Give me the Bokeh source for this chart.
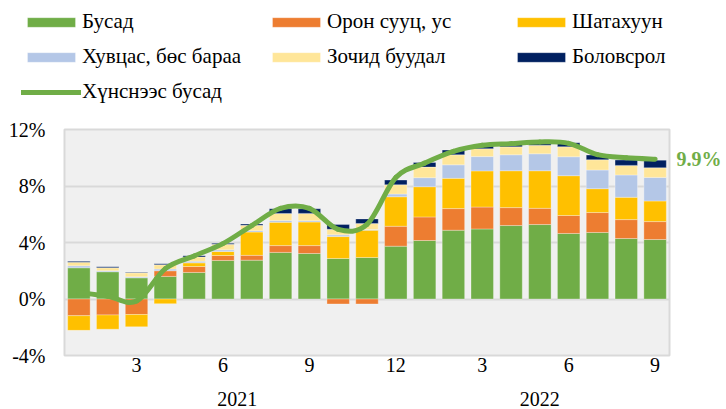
import numpy as np
from bokeh.plotting import figure
from bokeh.models import (ColumnDataSource, FixedTicker, LinearAxis, Legend,
                          LegendItem, Range1d)
from bokeh.embed import file_html
from bokeh.resources import INLINE

# ---------------- data ----------------
months = list(range(1, 22))                       # Jan 2021 ... Sep 2022
year_of_month = [2021] * 12 + [2022] * 9
month_tick_positions = [3, 6, 9, 12, 15, 18, 21]
month_tick_labels = ["3", "6", "9", "12", "3", "6", "9"]
year_labels = ["2021", "2022"]
y_ticks = [-4, 0, 4, 8, 12]

series_names = ["Бусад", "Орон сууц, ус", "Шатахуун",
                "Хувцас, бөс бараа", "Зочид буудал", "Боловсрол"]
busad = [2.21, 1.93, 1.50, 1.60, 1.88, 2.73, 2.75, 3.30, 3.22, 2.87, 2.94,
         3.74, 4.14, 4.87, 4.96, 5.20, 5.27, 4.64, 4.71, 4.28, 4.21]
oron_suuts = [-1.18, -1.13, -1.10, 0.40, 0.42, 0.35, 0.34, 0.48, 0.56, -0.35, -0.35,
              1.41, 1.67, 1.53, 1.55, 1.27, 1.15, 1.27, 1.41, 1.34, 1.27]
shatakhuun = [-1.04, -1.01, -0.87, -0.33, 0.26, 0.28, 1.65, 1.65, 1.67, 1.55, 1.93,
              2.09, 2.14, 2.14, 2.56, 2.61, 2.66, 2.82, 1.69, 1.58, 1.46]
khuvtsas = [0.14, 0.07, 0.07, 0.12, 0.12, 0.12, 0.10, 0.12, 0.09, 0.12, 0.05,
            0.19, 0.64, 0.96, 1.01, 1.13, 1.20, 1.34, 1.32, 1.58, 1.67]
zochid = [0.26, 0.21, 0.28, 0.30, 0.30, 0.40, 0.38, 0.50, 0.52, 0.40, 0.42,
          0.66, 0.75, 0.71, 0.56, 0.56, 0.61, 0.71, 0.73, 0.68, 0.68]
bolovsrol = [0.06, 0.07, 0.05, 0.07, 0.09, 0.07, 0.09, 0.34, 0.33, 0.33, 0.33,
             0.33, 0.33, 0.33, 0.21, 0.16, 0.16, 0.28, 0.33, 0.38, 0.54]
series_values = [busad, oron_suuts, shatakhuun, khuvtsas, zochid, bolovsrol]
series_colors = ["#70AD47", "#ED7D31", "#FFC000", "#B4C7E7", "#FFE699", "#002060"]

line_name = "Хүнснээс бусад"
line_values = [0.45, 0.20, -0.15, 2.15, 3.05, 3.92, 5.20, 6.42, 6.42, 4.93, 5.28,
               8.60, 9.62, 10.45, 10.88, 11.00, 11.12, 11.02, 10.22, 10.00, 9.90]
line_color = "#70AD47"

FONT = "Liberation Serif"
BAR_W = 0.78
BAR_STYLE = dict(line_color="white", line_width=0.6, line_alpha=0.5)
LINE_STYLE = dict(line_color=line_color, line_width=5, line_cap="round")

# ---------------- legend figure (top strip) ----------------
leg = figure(width=726, height=105, min_border_left=21, min_border_top=9,
             min_border_right=0, min_border_bottom=0,
             x_range=Range1d(0, 1), y_range=Range1d(0, 1),
             x_axis_location=None, y_axis_location=None,
             output_backend="svg", toolbar_location=None)
leg.outline_line_color = None
leg.grid.visible = False
leg.background_fill_color = "white"
leg.border_fill_color = "white"

items = []
for name, col, v in zip(series_names, series_colors, series_values):
    r = leg.vbar(x=months, top=v, width=BAR_W, fill_color=col, visible=False, **BAR_STYLE)
    items.append(LegendItem(label=name, renderers=[r]))
rl = leg.line(x=months, y=line_values, visible=False, **LINE_STYLE)
items.append(LegendItem(label=line_name, renderers=[rl]))
legend = Legend(items=items, location="top_left", orientation="horizontal", ncols=3,
                glyph_width=60, glyph_height=12, label_standoff=1, label_width=174,
                label_height=24, spacing=10, padding=0, margin=0,
                background_fill_alpha=0, border_line_color=None,
                inactive_fill_alpha=0,
                label_text_font=FONT, label_text_font_size="21px",
                label_text_color="black")
leg.add_layout(legend, "center")

# ---------------- main figure ----------------
p = figure(frame_width=605, frame_height=226,
           min_border_left=64, min_border_right=57,
           min_border_top=24, min_border_bottom=54,
           x_range=Range1d(0.5, len(months) + 0.5), y_range=Range1d(-4, 12),
           output_backend="svg", toolbar_location=None, x_axis_type=None)
p.background_fill_color = "#F0F0F0"
p.border_fill_color = "white"
p.outline_line_color = "#D9D9D9"
p.outline_line_width = 2

p.ygrid.ticker = FixedTicker(ticks=y_ticks)
p.ygrid.grid_line_color = "#D9D9D9"
p.ygrid.grid_line_width = 2
p.xgrid.ticker = FixedTicker(ticks=[m + 0.5 for m in month_tick_positions[:-1]])
p.xgrid.grid_line_color = "#D9D9D9"
p.xgrid.grid_line_width = 2

ya = p.yaxis[0]
ya.ticker = FixedTicker(ticks=y_ticks)
ya.major_label_overrides = {t: f"{t}%" for t in y_ticks}

xa = LinearAxis(ticker=FixedTicker(ticks=month_tick_positions),
                major_label_overrides={float(t): l for t, l in zip(month_tick_positions, month_tick_labels)})
yrs = sorted(set(year_of_month))
year_pos = [float(np.mean([m for m, yv in zip(months, year_of_month) if yv == y])) for y in yrs]
xa2 = LinearAxis(ticker=FixedTicker(ticks=year_pos),
                 major_label_overrides={pp: l for pp, l in zip(year_pos, year_labels)})
p.add_layout(xa, "below")
p.add_layout(xa2, "below")

# end-value label as a right-hand axis tick
last = float(line_values[-1])
ra = LinearAxis(ticker=FixedTicker(ticks=[last]),
                major_label_overrides={last: f"{last:.1f}%"})
p.add_layout(ra, "right")

for ax in [ya, xa, xa2, ra]:
    ax.axis_line_color = None
    ax.major_tick_line_color = None
    ax.minor_tick_line_color = None
    ax.major_tick_out = 0
    ax.major_tick_in = 0
    ax.major_label_text_font = FONT
    ax.major_label_text_font_size = "20px"
    ax.major_label_text_color = "black"
ya.major_label_standoff = 19
xa.major_label_standoff = 2
xa2.major_label_standoff = 17
ra.major_label_standoff = 7
ra.major_label_text_font_style = "bold"
ra.major_label_text_color = line_color

# ---------------- stacked bars ----------------
vals = np.array(series_values, dtype=float)
pos = np.clip(vals, 0, None)
neg = np.clip(vals, None, 0)
pos_top = np.cumsum(pos, axis=0)
pos_bot = pos_top - pos
neg_bot = np.cumsum(neg, axis=0)
neg_top = neg_bot - neg

for i, (name, col) in enumerate(zip(series_names, series_colors)):
    xs, bots, tops = [], [], []
    for j, m in enumerate(months):
        v = vals[i, j]
        if v > 0:
            xs.append(m); bots.append(pos_bot[i, j]); tops.append(pos_top[i, j])
        elif v < 0:
            xs.append(m); bots.append(neg_bot[i, j]); tops.append(neg_top[i, j])
    src = ColumnDataSource(dict(x=xs, bottom=bots, top=tops))
    p.vbar(x="x", bottom="bottom", top="top", width=BAR_W, source=src,
           fill_color=col, **BAR_STYLE)

# ---------------- smoothed line (cubic Bezier through data points) ----------------
x = np.array(months, dtype=float)
y = np.array(line_values, dtype=float)
xp = np.concatenate([[x[0]], x, [x[-1]]])
yp = np.concatenate([[y[0]], y, [y[-1]]])
n = len(x)
bz = dict(x0=[], y0=[], x1=[], y1=[], cx0=[], cy0=[], cx1=[], cy1=[])
for i in range(n - 1):
    p0x, p1x, p2x, p3x = xp[i], xp[i + 1], xp[i + 2], xp[i + 3]
    p0y, p1y, p2y, p3y = yp[i], yp[i + 1], yp[i + 2], yp[i + 3]
    bz["x0"].append(p1x); bz["y0"].append(p1y)
    bz["x1"].append(p2x); bz["y1"].append(p2y)
    bz["cx0"].append(p1x + (p2x - p0x) / 6); bz["cy0"].append(p1y + (p2y - p0y) / 6)
    bz["cx1"].append(p2x - (p3x - p1x) / 6); bz["cy1"].append(p2y - (p3y - p1y) / 6)
p.bezier(x0="x0", y0="y0", x1="x1", y1="y1", cx0="cx0", cy0="cy0",
         cx1="cx1", cy1="cy1", source=ColumnDataSource(bz), **LINE_STYLE)

# two independent roots stacked on the page (legend strip, then chart)
roots = [leg, p]
open("out.html", "w").write(file_html(roots, INLINE))
